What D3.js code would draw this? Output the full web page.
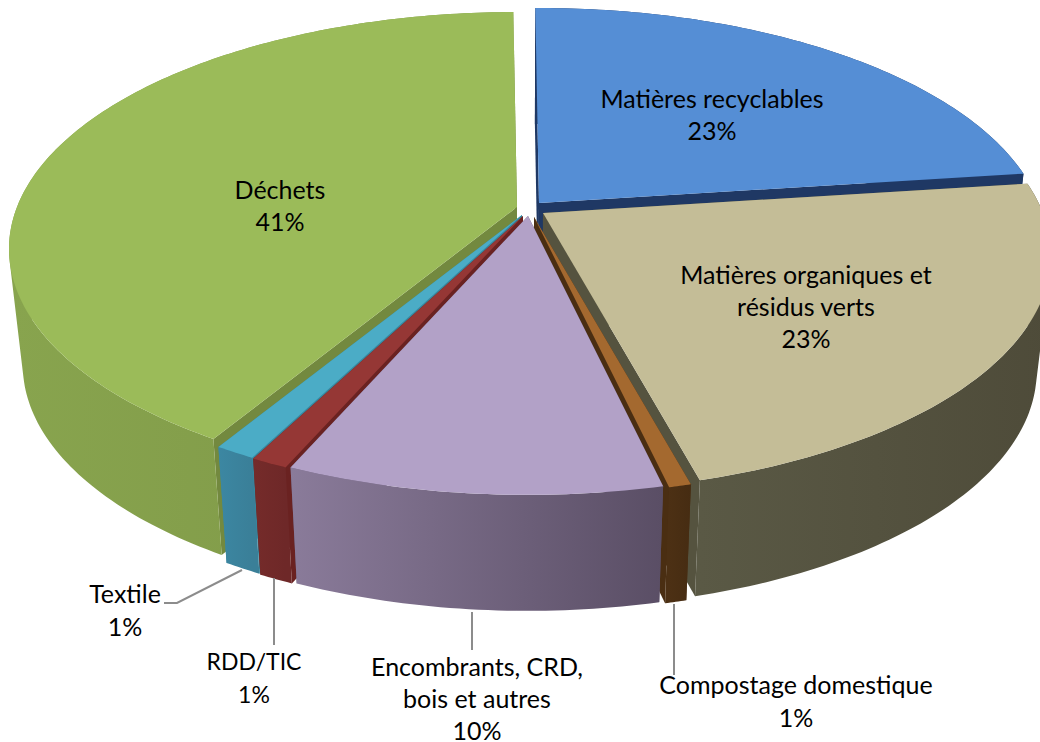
<!DOCTYPE html>
<html><head><meta charset="utf-8">
<script src="https://cdn.jsdelivr.net/npm/d3@7"></script>
<style>html,body{margin:0;padding:0;background:#fff;overflow:hidden}svg{display:block}</style>
</head><body><svg id="c" width="1040" height="742"></svg>
<script>
// DATA (clockwise from the top; percentages)
const names  = ["Matières recyclables","Matières organiques et résidus verts","Compostage domestique","Encombrants, CRD, bois et autres","RDD/TIC","Textile","Déchets"];
const values = [23.05,22.9,0.6,10.1,1.0,1.1,41.25];
const labelLines = [["Matières recyclables"],["Matières organiques et","résidus verts"],["Compostage domestique"],["Encombrants, CRD,","bois et autres"],["RDD/TIC"],["Textile"],["Déchets"]];

// COLOURS
const topColors = ["#558ed5","#c4bd97","#a4692f","#b2a1c7","#953735","#4bacc6","#9bbb59"];
const cutColors = ["#1f3864","#55533f","#4a2e12","#5b4f68","#6a2221","#37889f","#73893f"];
const wallFrom  = ["#1f3864","#5a5945","#4c3014","#8a7b9a","#752b2a","#3c87a2","#88a44e"];
const wallTo    = ["#1f3864","#4e4b39","#462c12","#5a4e65","#6e2828","#3a7f98","#7d9646"];

// LAYOUT
const W=1040,H=742, pivotX=520;
const rot=-0.5*Math.PI/180;
const a=500,b=229.5,k=0.177,depth=116,shrink=0.973;
const apex=[[539,203],[543,213],[534,217],[528,216],[523,216],[522,215],[517,207]];
const labelPos=[[712,100],[806,276],[796,686],[477,668],[254,662],[125,595],[280,191]];
const lineGap=[32,32,33,32,33,33,32];
const labelSize=[25,25,25,25,23,25,25];
const leaders=[null,null,[[674,604],[674,675]],[[472,612],[472,650]],[[274,578],[274,645]],[[242,570],[177,603],[164,603]],null];
const drawOrder=[0,1,6,2,5,4,3];

const svg=d3.select("#c");
const defs=svg.append("defs");
const pie=d3.pie().sort(null).startAngle(rot).endAngle(rot+2*Math.PI)(values);
const line=d3.line();

const rim=(i,t)=>{const w=1+k*Math.cos(t);return [apex[i][0]+a*Math.sin(t)/w, apex[i][1]-b*Math.cos(t)/w];};
const low=p=>[pivotX+(p[0]-pivotX)*shrink,p[1]+depth];

pie.forEach((d,i)=>{
  const steps=Math.max(8,Math.ceil((d.endAngle-d.startAngle)*60));
  const range=d3.range(0,steps+1).map(n=>d.startAngle+(d.endAngle-d.startAngle)*n/steps);
  const arc=range.map(t=>rim(i,t));
  const xs=d3.extent(arc,p=>p[0]);
  const id="wall"+i;
  const g=defs.append("linearGradient").attr("id",id).attr("gradientUnits","userSpaceOnUse")
    .attr("x1",xs[0]).attr("x2",xs[1]).attr("y1",0).attr("y2",0);
  g.append("stop").attr("offset",0).attr("stop-color",wallFrom[i]);
  g.append("stop").attr("offset",1).attr("stop-color",wallTo[i]);
  d.arc=arc;d.i=i;
});

// the wall as a union of quads, all wound the same way, so the tangent between rims is filled
const wallPath=arc=>d3.range(arc.length-1).map(n=>{
  let q=[arc[n],arc[n+1],low(arc[n+1]),low(arc[n])];
  if(d3.polygonArea(q)<0) q=q.reverse();
  return line(q)+"Z";
}).join("");

drawOrder.forEach(i=>{
  const d=pie[i], ap=apex[i], arc=d.arc;
  const g=svg.append("g");
  const first=arc[0], last=arc[arc.length-1];
  // cut faces
  [first,last].forEach(p=>{
    g.append("path").attr("d",line([ap,p,low(p),low(ap)])+"Z").attr("fill",cutColors[i]);
  });
  // outer wall
  g.append("path").attr("d",wallPath(arc)).attr("fill","url(#wall"+i+")");
  // top face
  g.append("path").attr("d",line([ap].concat(arc))+"Z").attr("fill",topColors[i]);
});

// leader lines
leaders.forEach(l=>{ if(l) svg.append("path").attr("d",line(l)).attr("fill","none").attr("stroke","#8c8c8c").attr("stroke-width",2); });

// labels
pie.forEach((d,i)=>{
  const t=svg.append("text").attr("text-anchor","middle")
    .attr("font-family","Lato, Carlito, 'Open Sans', sans-serif").attr("font-size",labelSize[i]).attr("fill","#000");
  const lines=labelLines[i].concat([d3.format(".0f")(values[i])+"%"]);
  lines.forEach((s,n)=>t.append("tspan").attr("x",labelPos[i][0]).attr("y",labelPos[i][1]+n*lineGap[i]+8).text(s));
});
</script></body></html>
